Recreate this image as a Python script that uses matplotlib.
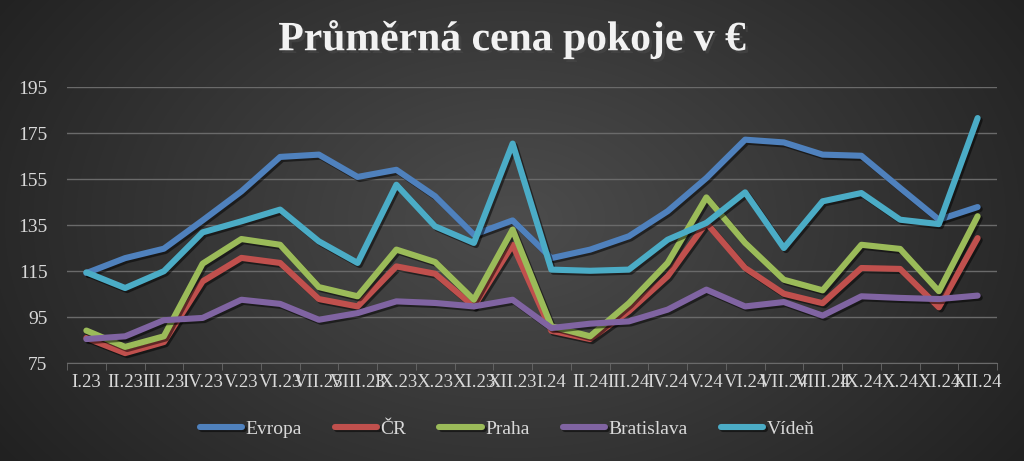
import numpy as np
import matplotlib
matplotlib.use("Agg")
import matplotlib.pyplot as plt
import matplotlib.patheffects as pe

# months I.23 .. XII.24
roman = ["I", "II", "III", "IV", "V", "VI", "VII", "VIII", "IX", "X", "XI", "XII"]
months = [r + ".23" for r in roman] + [r + ".24" for r in roman]

evropa = [114.1, 120.6, 124.7, 137.0, 149.6, 164.6, 165.6, 155.9, 159.0, 147.5, 130.8, 137.0,
          120.6, 124.3, 130.1, 141.0, 155.4, 172.1, 170.9, 165.6, 165.1, 151.1, 137.3, 142.8]
cr = [85.9, 79.3, 84.1, 110.5, 120.7, 118.5, 102.8, 99.6, 117.0, 113.8, 99.6, 126.4,
      89.0, 85.4, 97.5, 112.7, 135.9, 116.3, 105.1, 101.0, 116.3, 115.9, 99.2, 129.3]
praha = [89.1, 82.0, 86.6, 118.2, 128.9, 126.4, 108.0, 104.0, 124.3, 118.9, 102.5, 133.0,
         91.0, 86.6, 101.0, 118.5, 147.0, 127.2, 111.2, 106.6, 126.4, 124.6, 106.2, 138.8]
bratislava = [85.4, 86.6, 93.6, 94.6, 102.5, 100.7, 93.8, 96.7, 101.8, 101.1, 99.6, 102.5,
              90.2, 92.1, 93.1, 98.2, 106.9, 99.6, 101.5, 95.6, 104.0, 103.3, 102.8, 104.3]
viden = [114.4, 107.6, 114.9, 131.8, 136.6, 141.7, 127.9, 118.5, 152.5, 134.4, 127.2, 170.4,
         115.6, 115.1, 115.6, 128.6, 135.9, 149.2, 125.0, 145.3, 148.9, 137.3, 135.4, 181.5]

series = [("Evropa", evropa, "#4F81BD"),
          ("ČR", cr, "#C0504D"),
          ("Praha", praha, "#9BBB59"),
          ("Bratislava", bratislava, "#8064A2"),
          ("Vídeň", viden, "#4BACC6")]

serif = ["Liberation Serif", "DejaVu Serif"]

fig = plt.figure(figsize=(10.24, 4.61), dpi=100)

# dark radial gradient background
bg = fig.add_axes([0, 0, 1, 1], zorder=-10)
yy, xx = np.mgrid[0:461, 0:1024]
r = np.sqrt(((xx - 512) / 620.0) ** 2 + ((yy - 220) / 420.0) ** 2)
shade = np.clip(0.30 - 0.17 * r, 0.12, 0.30)
bg.imshow(np.dstack([shade] * 3), aspect="auto", extent=[0, 1, 0, 1])
bg.axis("off")

ax = fig.add_axes([67 / 1024, 1 - 363 / 461, 930 / 1024, 276 / 461])
ax.patch.set_alpha(0)
x = np.arange(len(months))
for name, vals, col in series:
    ax.plot(x, vals, color=col, lw=4.4, label=name, solid_capstyle="round",
            path_effects=[pe.SimpleLineShadow(offset=(1.5, -1.5), alpha=0.5),
                          pe.Normal()])

ax.set_xlim(-0.5, len(months) - 0.5)
ax.set_ylim(75, 195)
ax.set_yticks(range(75, 196, 20))
ax.set_xticks(x)
ax.set_xticklabels(months)
ax.set_xticks(np.arange(-0.5, len(months)), minor=True)
ax.grid(axis="y", color="#6a6a6a", lw=1)
for s in ["top", "right", "left"]:
    ax.spines[s].set_visible(False)
ax.spines["bottom"].set_color("#6a6a6a")
ax.tick_params(axis="x", which="major", length=0, pad=8, labelsize=13.5, labelcolor="#d9d9d9")
ax.tick_params(axis="x", which="minor", length=5, color="#6a6a6a")
ax.tick_params(axis="y", length=0, pad=14, labelsize=14, labelcolor="#d9d9d9")
for t in ax.get_xticklabels() + ax.get_yticklabels():
    t.set_family(serif)

fig.text(0.5, 0.915, "Průměrná cena pokoje v €", ha="center", va="center",
         fontsize=30, fontweight="bold", color="#f2f2f2", family=serif,
         path_effects=[pe.withSimplePatchShadow(offset=(2, -2), alpha=0.6)])

leg = fig.legend(loc="center", bbox_to_anchor=(0.495, 0.07), ncol=5, frameon=False,
                 handlelength=2.2, columnspacing=1.7, handletextpad=0.15,
                 prop={"family": serif, "size": 14})
for t in leg.get_texts():
    t.set_color("#d9d9d9")
for h in leg.get_lines():
    h.set_linewidth(4.4)
    h.set_solid_capstyle("round")

fig.savefig("out.png", dpi=100)
